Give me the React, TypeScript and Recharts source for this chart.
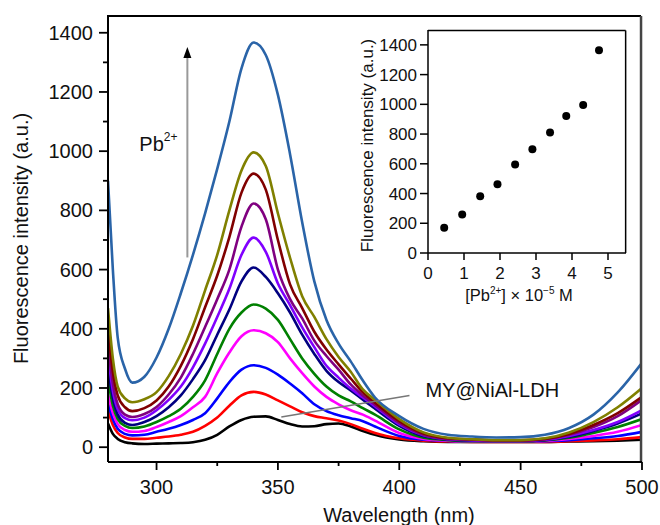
import React from "react";
import {
  Label,
  Line,
  LineChart,
  ReferenceLine,
  Scatter,
  ScatterChart,
  XAxis,
  YAxis,
} from "recharts";

const FONT = '"Liberation Sans", Arial, Helvetica, sans-serif';

// emission spectra, one array per Pb2+ addition
const WAVELENGTHS = [
  280, 282, 284, 287, 290, 295, 300, 305, 310, 315, 320, 325, 330, 335, 340, 345, 350, 355,
  360, 365, 370, 375, 380, 385, 390, 400, 410, 420, 430, 440, 450, 460, 470, 480, 490, 500,
];
const S0 = [80, 45, 28, 17, 13, 11, 12, 13, 14, 17, 25, 42, 70, 92, 103, 104, 92, 78, 70, 71, 78, 80, 70, 55, 42, 26, 20, 18, 18, 18, 18, 18, 19, 20, 22, 25];
const S1 = [125, 75, 48, 33, 28, 28, 32, 36, 42, 52, 72, 100, 140, 175, 187, 178, 158, 138, 118, 105, 98, 90, 78, 62, 48, 30, 22, 19, 18, 18, 18, 18, 20, 23, 27, 34];
const S2 = [150, 95, 62, 45, 40, 42, 52, 62, 75, 92, 115, 165, 220, 262, 277, 268, 245, 215, 182, 145, 122, 108, 98, 88, 70, 38, 25, 21, 19, 19, 19, 20, 24, 30, 38, 52];
const S3 = [180, 115, 78, 58, 52, 55, 68, 85, 105, 135, 170, 250, 320, 375, 395, 385, 355, 300, 250, 205, 170, 145, 125, 110, 90, 48, 28, 22, 19, 19, 19, 21, 28, 38, 52, 75];
const S4 = [230, 140, 95, 72, 65, 70, 85, 105, 130, 170, 226, 315, 400, 455, 482, 468, 430, 365, 300, 248, 205, 175, 155, 132, 110, 60, 32, 24, 20, 20, 20, 23, 32, 48, 68, 95];
const S5 = [270, 165, 110, 82, 75, 85, 105, 135, 175, 230, 294, 380, 465, 560, 607, 575, 520, 455, 380, 315, 258, 220, 192, 160, 130, 72, 37, 26, 22, 21, 21, 24, 35, 55, 80, 114];
const S6 = [310, 190, 128, 98, 91, 100, 125, 160, 205, 270, 350, 440, 535, 650, 708, 660, 553, 480, 405, 338, 275, 235, 198, 168, 138, 77, 40, 27, 23, 21, 21, 25, 38, 58, 85, 125];
const S7 = [350, 215, 145, 110, 102, 112, 136, 178, 235, 315, 406, 500, 600, 745, 823, 770, 600, 500, 435, 360, 308, 262, 212, 175, 143, 82, 42, 28, 25, 22, 22, 27, 42, 68, 105, 160];
const S8 = [400, 255, 175, 135, 122, 132, 158, 205, 275, 365, 473, 580, 710, 860, 924, 870, 700, 550, 470, 390, 330, 280, 232, 185, 150, 88, 46, 30, 26, 23, 23, 28, 45, 75, 115, 170];
const S9 = [470, 300, 205, 165, 152, 162, 186, 240, 315, 410, 530, 650, 800, 935, 996, 950, 790, 640, 510, 440, 365, 305, 255, 195, 160, 95, 50, 32, 27, 24, 24, 30, 50, 85, 135, 200];
const S10 = [900, 600, 370, 265, 218, 238, 303, 400, 520, 650, 790, 940, 1100, 1280, 1367, 1325, 1190, 990, 760, 560, 430, 350, 290, 225, 168, 105, 62, 42, 36, 33, 34, 42, 65, 110, 185, 285];

const SERIES = [
  { key: "s0", color: "#000000", values: S0 },
  { key: "s1", color: "#ff0000", values: S1 },
  { key: "s2", color: "#0000ff", values: S2 },
  { key: "s3", color: "#ff00ff", values: S3 },
  { key: "s4", color: "#008000", values: S4 },
  { key: "s5", color: "#000080", values: S5 },
  { key: "s6", color: "#8000ff", values: S6 },
  { key: "s7", color: "#800080", values: S7 },
  { key: "s8", color: "#800000", values: S8 },
  { key: "s9", color: "#808000", values: S9 },
  { key: "s10", color: "#2a64a8", values: S10 },
];

// inset: peak intensity vs [Pb2+]
const PB_CONC = [0.45, 0.95, 1.45, 1.93, 2.42, 2.9, 3.39, 3.84, 4.31, 4.75];
const PEAK_INTENSITY = [170, 259, 382, 463, 595, 698, 810, 921, 995, 1364];

const MAIN_X_DOMAIN = [280, 500];
const MAIN_Y_DOMAIN = [-50, 1460];
const INSET_X_DOMAIN = [0, 5.5];
const INSET_Y_DOMAIN = [0, 1500];

const MAIN_X_TICKS = [300, 325, 350, 375, 400, 425, 450, 475, 500];
const MAIN_Y_TICKS = [0, 100, 200, 300, 400, 500, 600, 700, 800, 900, 1000, 1100, 1200, 1300, 1400];
const INSET_X_TICKS = [0, 1, 2, 3, 4, 5];
const INSET_Y_TICKS = [0, 200, 400, 600, 800, 1000, 1200, 1400];

// annotation anchors, in data units
const ARROW = { w: 312.7, from: 641, to: 1318 };
const POINTER = { w1: 404.2, v1: 175, w2: 351.4, v2: 102 };
// box spines, a hair inside the domain edges
const MAIN_BOX = { left: 280, right: 499.6, bottom: -50, top: 1457 };
const INSET_BOX = { left: 0, right: 5.49, bottom: 0, top: 1497 };

const MAIN_MARGIN = { top: 15, right: 18, bottom: 23, left: 48 };
const INSET_MARGIN = { top: 10, right: 14, bottom: 27, left: 28 };

const spectra = WAVELENGTHS.map((w, i) => {
  const row: Record<string, number> = { w };
  SERIES.forEach((s) => {
    row[s.key] = s.values[i];
  });
  return row;
});

const peaks = PB_CONC.map((c, i) => ({ c, v: PEAK_INTENSITY[i] }));

const MainXTick = ({ x, y, payload }: any) => {
  const major = payload.value % 50 === 0;
  return (
    <g>
      <line x1={x} x2={x} y1={y} y2={y + (major ? 8 : 4)} stroke="#000" strokeWidth={1.8} />
      {major && (
        <text x={x} y={y + 32} textAnchor="middle" fontSize={20} fontFamily={FONT} fill="#111">
          {payload.value}
        </text>
      )}
    </g>
  );
};

const MainYTick = ({ x, y, payload }: any) => {
  const major = payload.value % 200 === 0;
  return (
    <g>
      <line x1={x} x2={x - (major ? 9 : 5)} y1={y} y2={y} stroke="#000" strokeWidth={1.8} />
      {major && (
        <text x={x - 15} y={y + 7} textAnchor="end" fontSize={20} fontFamily={FONT} fill="#111">
          {payload.value}
        </text>
      )}
    </g>
  );
};

const InsetXTick = ({ x, y, payload }: any) => (
  <g>
    <line x1={x} x2={x} y1={y} y2={y + 7} stroke="#000" strokeWidth={1.5} />
    <text x={x} y={y + 26} textAnchor="middle" fontSize={17} fontFamily={FONT} fill="#111">
      {payload.value}
    </text>
  </g>
);

const InsetYTick = ({ x, y, payload }: any) => (
  <g>
    <line x1={x} x2={x - 8} y1={y} y2={y} stroke="#000" strokeWidth={1.5} />
    <text x={x - 11} y={y + 6} textAnchor="end" fontSize={17} fontFamily={FONT} fill="#111">
      {payload.value}
    </text>
  </g>
);

const XTitle = ({ viewBox }: any) => (
  <text
    x={viewBox.x + viewBox.width / 2 + 24}
    y={viewBox.y + 60}
    textAnchor="middle"
    fontSize={20}
    fontFamily={FONT}
    fill="#111"
  >
    Wavelength (nm)
  </text>
);

const YTitle = ({ viewBox }: any) => {
  const x = viewBox.x - 20;
  const y = viewBox.y + viewBox.height / 2;
  return (
    <text
      x={x}
      y={y}
      transform={`rotate(-90, ${x}, ${y})`}
      textAnchor="middle"
      fontSize={20}
      fontFamily={FONT}
      fill="#111"
    >
      Fluorescence intensity (a.u.)
    </text>
  );
};

const ArrowLabel = ({ viewBox }: any) => {
  const x = viewBox.x;
  const top = viewBox.y;
  return (
    <g>
      <path d={`M${x - 4},${top + 1} L${x},${top - 10} L${x + 4},${top + 1} Z`} fill="#000" />
      <text x={x - 48} y={top + 94} fontSize={20} fontFamily={FONT} fill="#111">
        Pb
        <tspan dy={-10} fontSize={12}>
          2+
        </tspan>
      </text>
    </g>
  );
};

const PointerLabel = ({ viewBox }: any) => (
  <text
    x={viewBox.x + viewBox.width + 16}
    y={viewBox.y + 2}
    fontSize={20}
    fontFamily={FONT}
    fill="#111"
  >
    MY@NiAl-LDH
  </text>
);

const InsetXTitle = ({ viewBox }: any) => (
  <text
    x={viewBox.x + viewBox.width / 2 - 8}
    y={viewBox.y + 48}
    textAnchor="middle"
    fontSize={16.5}
    fontFamily={FONT}
    fill="#111"
  >
    [Pb
    <tspan dy={-7} fontSize={10}>
      2+
    </tspan>
    <tspan dy={7}>] × 10</tspan>
    <tspan dy={-7} fontSize={10}>
      −5
    </tspan>
    <tspan dy={7}> M</tspan>
  </text>
);

const InsetYTitle = ({ viewBox }: any) => {
  const x = viewBox.x - 5;
  const y = viewBox.y + viewBox.height / 2 + 4;
  return (
    <text
      x={x}
      y={y}
      transform={`rotate(-90, ${x}, ${y})`}
      textAnchor="middle"
      fontSize={17}
      fontFamily={FONT}
      fill="#111"
    >
      Fluorescence intensity (a.u.)
    </text>
  );
};

const PeakDot = ({ cx, cy }: any) => <circle cx={cx} cy={cy} r={4} fill="#000" />;

export default function App() {
  return (
    <div
      style={{
        position: "absolute",
        left: 0,
        top: 0,
        width: 660,
        height: 525,
        background: "#fff",
      }}
    >
      <LineChart width={660} height={525} data={spectra} margin={MAIN_MARGIN}>
        <XAxis
          type="number"
          dataKey="w"
          domain={MAIN_X_DOMAIN}
          allowDataOverflow
          ticks={MAIN_X_TICKS}
          interval={0}
          tick={MainXTick}
          tickLine={false}
          tickSize={0}
          tickMargin={0}
          height={40}
          axisLine={{ stroke: "#000", strokeWidth: 2 }}
        >
          <Label content={XTitle} />
        </XAxis>
        <YAxis
          type="number"
          domain={MAIN_Y_DOMAIN}
          allowDataOverflow
          ticks={MAIN_Y_TICKS}
          interval={0}
          tick={MainYTick}
          tickLine={false}
          tickSize={0}
          tickMargin={0}
          width={60}
          axisLine={{ stroke: "#000", strokeWidth: 2 }}
        >
          <Label content={YTitle} />
        </YAxis>
        {SERIES.map((s) => (
          <Line
            key={s.key}
            type="monotone"
            dataKey={s.key}
            stroke={s.color}
            strokeWidth={2.6}
            dot={false}
            isAnimationActive={false}
          />
        ))}
        <ReferenceLine
          segment={[
            { x: MAIN_BOX.left, y: MAIN_BOX.top },
            { x: MAIN_BOX.right, y: MAIN_BOX.top },
          ]}
          stroke="#000"
          strokeWidth={2}
          ifOverflow="visible"
        />
        <ReferenceLine
          segment={[
            { x: MAIN_BOX.right, y: MAIN_BOX.bottom },
            { x: MAIN_BOX.right, y: MAIN_BOX.top },
          ]}
          stroke="#444"
          strokeWidth={2.5}
          ifOverflow="visible"
        />
        <ReferenceLine
          segment={[
            { x: ARROW.w, y: ARROW.from },
            { x: ARROW.w, y: ARROW.to },
          ]}
          stroke="#999"
          strokeWidth={2}
          ifOverflow="visible"
          label={ArrowLabel}
        />
        <ReferenceLine
          segment={[
            { x: POINTER.w1, y: POINTER.v1 },
            { x: POINTER.w2, y: POINTER.v2 },
          ]}
          stroke="#777"
          strokeWidth={1.5}
          ifOverflow="visible"
          label={PointerLabel}
        />
      </LineChart>

      <div style={{ position: "absolute", left: 350, top: 20 }}>
        <ScatterChart width={290} height={300} margin={INSET_MARGIN}>
          <XAxis
            type="number"
            dataKey="c"
            domain={INSET_X_DOMAIN}
            allowDataOverflow
            ticks={INSET_X_TICKS}
            interval={0}
            tick={InsetXTick}
            tickLine={false}
            tickSize={0}
            tickMargin={0}
            height={40}
            axisLine={{ stroke: "#000", strokeWidth: 1.5 }}
          >
            <Label content={InsetXTitle} />
          </XAxis>
          <YAxis
            type="number"
            dataKey="v"
            domain={INSET_Y_DOMAIN}
            allowDataOverflow
            ticks={INSET_Y_TICKS}
            interval={0}
            tick={InsetYTick}
            tickLine={false}
            tickSize={0}
            tickMargin={0}
            width={50}
            axisLine={{ stroke: "#000", strokeWidth: 1.5 }}
          >
            <Label content={InsetYTitle} />
          </YAxis>
          <ReferenceLine
            segment={[
              { x: INSET_BOX.left, y: INSET_BOX.top },
              { x: INSET_BOX.right, y: INSET_BOX.top },
            ]}
            stroke="#000"
            strokeWidth={1.5}
            ifOverflow="visible"
          />
          <ReferenceLine
            segment={[
              { x: INSET_BOX.right, y: INSET_BOX.bottom },
              { x: INSET_BOX.right, y: INSET_BOX.top },
            ]}
            stroke="#000"
            strokeWidth={1.5}
            ifOverflow="visible"
          />
          <Scatter data={peaks} fill="#000" shape={PeakDot} isAnimationActive={false} />
        </ScatterChart>
      </div>
    </div>
  );
}
